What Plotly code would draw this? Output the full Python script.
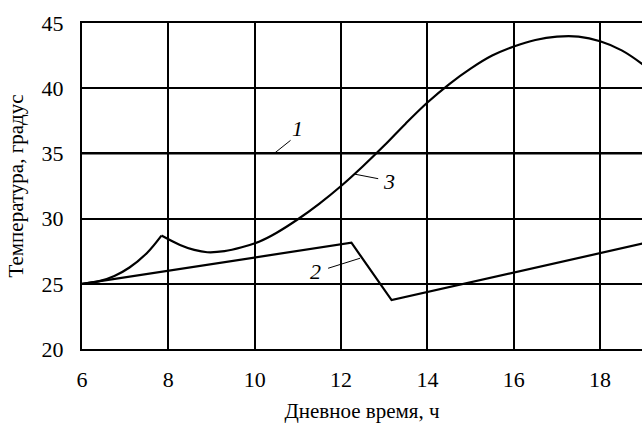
import plotly.graph_objects as go

# Curve 1: constant
x1 = [6, 19]
y1 = [35, 35]

# Curve 2: piecewise linear
x2 = [6, 12.24, 13.17, 19]
y2 = [25.0, 28.15, 23.75, 28.1]

# Curve 3: rising to cusp, then smooth
x3a = [6, 6.4, 6.75, 7.1, 7.5, 7.84]
y3a = [25.0, 25.2, 25.6, 26.25, 27.35, 28.7]
x3b = [7.84, 8.27, 8.6, 8.9, 9.3, 9.7, 10.1, 10.5, 11.0, 11.5, 12.0, 12.5, 13.0, 13.5,
       14.0, 14.5, 15.0, 15.5, 16.0, 16.5, 17.0, 17.5, 18.0, 18.5, 19.0]
y3b = [28.7, 27.98, 27.6, 27.42, 27.5, 27.8, 28.23, 28.9, 29.95, 31.15, 32.5, 34.0, 35.6, 37.3,
       38.9, 40.3, 41.5, 42.5, 43.2, 43.7, 43.95, 43.95, 43.6, 42.9, 41.8]

x_ticks = [6, 8, 10, 12, 14, 16, 18]
y_ticks = [20, 25, 30, 35, 40, 45]

# Curve labels: (text, label x, label y, leader start x, y, leader end x, y)
labels = [
    ("1", 11.0, 36.9, 10.47, 35.05, 10.83, 36.0),
    ("3", 13.12, 32.85, 12.30, 33.42, 12.86, 33.06),
    ("2", 11.40, 25.98, 11.70, 26.19, 12.44, 26.96),
]

font = "Liberation Serif"
fig = go.Figure()
line = dict(color="black", width=2.2)
fig.add_trace(go.Scatter(x=x1, y=y1, mode="lines", line=line))
fig.add_trace(go.Scatter(x=x2, y=y2, mode="lines", line=line))
fig.add_trace(go.Scatter(x=x3a, y=y3a, mode="lines", line=dict(color="black", width=2.2, shape="spline")))
fig.add_trace(go.Scatter(x=x3b, y=y3b, mode="lines", line=dict(color="black", width=2.2, shape="spline")))

for t, lx, ly, ax0, ay0, ax1, ay1 in labels:
    fig.add_trace(go.Scatter(x=[ax0, ax1], y=[ay0, ay1], mode="lines",
                             line=dict(color="black", width=1)))
    fig.add_annotation(x=lx, y=ly, text=f"<i>{t}</i>", showarrow=False,
                       font=dict(family=font, size=22, color="black"))

fig.update_layout(
    width=642, height=423,
    margin=dict(l=82, r=0, t=23, b=74),
    paper_bgcolor="white", plot_bgcolor="white",
    showlegend=False,
    font=dict(family=font, size=22, color="black"),
    xaxis=dict(range=[6, 18.97], tickvals=x_ticks, showgrid=True, gridcolor="black",
               gridwidth=2, showline=True, linecolor="black", linewidth=2, mirror=True,
               zeroline=False, ticks="", ticklabelstandoff=10,
               tickfont=dict(family=font, size=22),
               title=dict(text="Дневное время, ч", font=dict(family=font, size=21), standoff=16)),
    yaxis=dict(range=[20, 45], tickvals=y_ticks, showgrid=True, gridcolor="black",
               gridwidth=2, showline=True, linecolor="black", linewidth=2, mirror=False,
               zeroline=False, ticks="", ticklabelstandoff=12,
               tickfont=dict(family=font, size=22),
               title=dict(text="Температура, градус", font=dict(family=font, size=21), standoff=12)),
)

fig.write_html("out.html")
